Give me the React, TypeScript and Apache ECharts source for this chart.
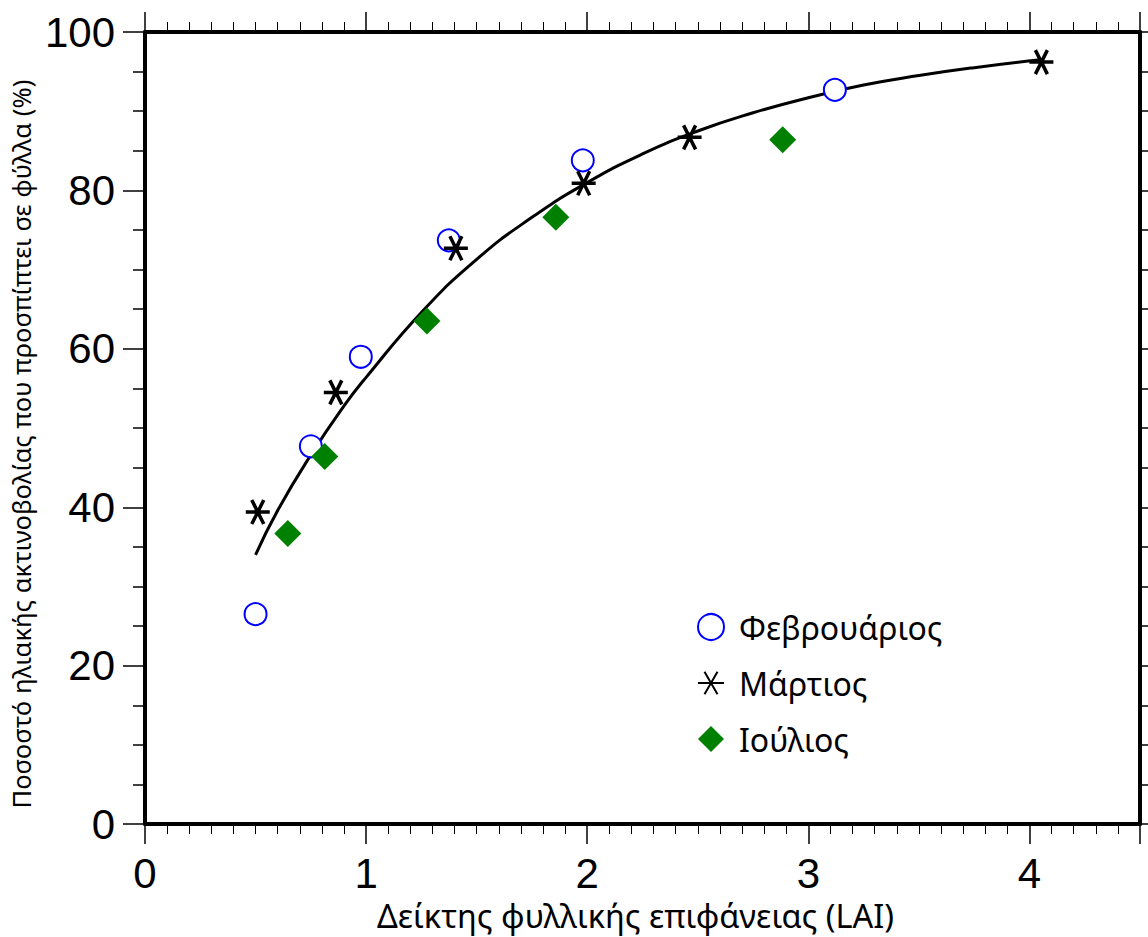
import React, { useEffect, useRef } from "react";
import * as echarts from "echarts";

const febX = [0.5, 0.75, 0.976, 1.374, 1.98, 3.12];
const febY = [26.5, 47.7, 59.0, 73.7, 83.8, 92.7];
const marX = [0.51, 0.863, 1.406, 1.984, 2.463, 4.054];
const marY = [39.4, 54.5, 72.7, 80.9, 86.7, 96.2];
const julX = [0.646, 0.813, 1.275, 1.858, 2.884];
const julY = [36.7, 46.4, 63.5, 76.6, 86.4];
const curveX = [0.5, 0.6, 0.75, 0.9, 1.0, 1.25, 1.5, 1.75, 2.0, 2.25, 2.5, 2.75, 3.0, 3.25, 3.5, 3.75, 4.05];
const curveY = [34.0, 39.6, 46.6, 52.8, 56.4, 64.6, 71.3, 76.6, 81.0, 84.6, 87.5, 89.8, 91.7, 93.3, 94.5, 95.5, 96.5];
const seriesNames = ["Φεβρουάριος", "Μάρτιος", "Ιούλιος"];
const xTitle = "Δείκτης φυλλικής επιφάνειας (LAI)";
const yTitle = "Ποσοστό ηλιακής ακτινοβολίας που προσπίπτει σε φύλλα (%)";

const zip = (xs: number[], ys: number[]) => xs.map((x, i) => [x, ys[i]]);

const STAR = "path://M-10,0L10,0M-5,-8.66L5,8.66M-5,8.66L5,-8.66";

export default function App() {
  const ref = useRef<HTMLDivElement>(null);
  useEffect(() => {
    const chart = echarts.init(ref.current!, null, { renderer: "svg" });
    const tickFont = { fontFamily: "Liberation Sans", fontSize: 42, color: "#000" };
    const greekFont = "Noto Sans";
    const xCommon = {
      type: "value",
      min: 0,
      max: 4.5,
      interval: 1,
      axisLine: { show: true, onZero: false, lineStyle: { color: "#000", width: 4 } },
      axisTick: { show: true, inside: false, length: 20, lineStyle: { color: "#000", width: 1.5 } },
      minorTick: { show: true, splitNumber: 10, length: 10, lineStyle: { color: "#000", width: 1 } },
      splitLine: { show: false },
      minorSplitLine: { show: false },
    };
    const yCommon = {
      type: "value",
      min: 0,
      max: 100,
      interval: 20,
      axisLine: { show: true, onZero: false, lineStyle: { color: "#000", width: 4 } },
      axisTick: { show: true, inside: false, length: 22, lineStyle: { color: "#000", width: 1.5 } },
      minorTick: { show: true, splitNumber: 4, length: 12, lineStyle: { color: "#000", width: 1.5 } },
      splitLine: { show: false },
      minorSplitLine: { show: false },
    };
    chart.setOption({
      animation: false,
      backgroundColor: "#fff",
      grid: { left: 145, top: 32, right: 8, bottom: 110, containLabel: false },
      xAxis: [
        {
          ...xCommon,
          position: "bottom",
          axisLabel: { ...tickFont, margin: 28, showMaxLabel: false },
          name: xTitle,
          nameLocation: "middle",
          nameGap: 74,
          nameTextStyle: { fontFamily: greekFont, fontSize: 32.5, color: "#000", padding: [0, 14, 0, 0] },
        },
        {
          ...xCommon,
          position: "top",
          axisLabel: { show: false },
        },
      ],
      yAxis: [
        {
          ...yCommon,
          position: "left",
          axisLabel: { ...tickFont, margin: 30 },
          name: yTitle,
          nameLocation: "middle",
          nameGap: 111,
          nameTextStyle: { fontFamily: greekFont, fontSize: 25.5, color: "#000", padding: [0, 32, 0, 0] },
        },
        {
          ...yCommon,
          position: "right",
          axisLabel: { show: false },
          axisTick: { show: true, inside: false, length: 12, lineStyle: { color: "#000", width: 1.5 } },
        },
      ],
      legend: {
        orient: "vertical",
        left: 692,
        top: 606,
        itemWidth: 26,
        itemHeight: 26,
        itemGap: 24,
        textStyle: { fontFamily: greekFont, fontSize: 32, lineHeight: 26, color: "#000", padding: [0, 0, 0, 10] },
        data: seriesNames,
      },
      series: [
        {
          name: "fit",
          type: "line",
          data: zip(curveX, curveY),
          smooth: true,
          showSymbol: false,
          symbol: "none",
          lineStyle: { color: "#000", width: 3 },
          z: 1,
        },
        {
          name: seriesNames[0],
          type: "scatter",
          data: zip(febX, febY),
          symbol: "emptyCircle",
          symbolSize: 22,
          itemStyle: { color: "#0000ff", borderColor: "#0000ff", borderWidth: 3, opacity: 1 },
          z: 3,
        },
        {
          name: seriesNames[1],
          type: "scatter",
          data: zip(marX, marY),
          symbol: STAR,
          symbolSize: 24,
          itemStyle: { color: "#000", borderColor: "#000", borderWidth: 3.5, opacity: 1 },
          z: 3,
        },
        {
          name: seriesNames[2],
          type: "scatter",
          data: zip(julX, julY),
          symbol: "diamond",
          symbolSize: 27,
          itemStyle: { color: "#008000", opacity: 1 },
          z: 3,
        },
      ],
    });
    return () => chart.dispose();
  }, []);
  return <div ref={ref} style={{ width: 1148, height: 937, position: "absolute", left: 0, top: 0 }} />;
}
